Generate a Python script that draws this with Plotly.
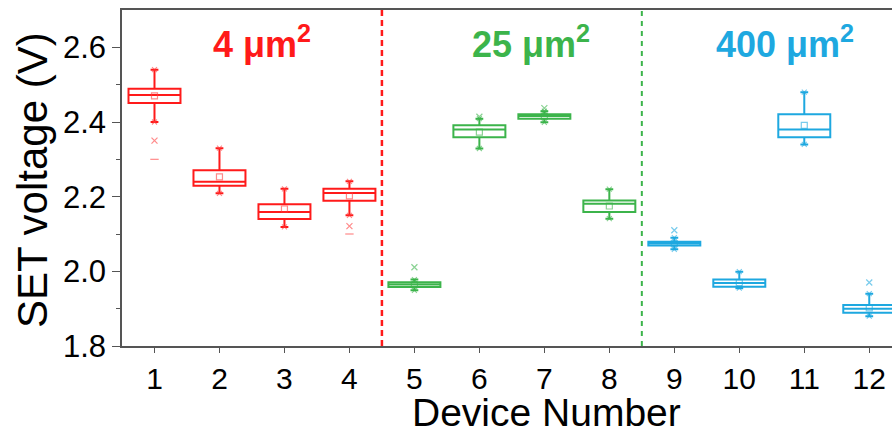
import plotly.graph_objects as go

devices = [1, 2, 3, 4, 5, 6, 7, 8, 9, 10, 11, 12]
upper = [2.540, 2.330, 2.221, 2.241, 1.978, 2.409, 2.429, 2.220, 2.090, 1.999, 2.480, 1.940]
q3 = [2.489, 2.271, 2.180, 2.221, 1.971, 2.391, 2.421, 2.190, 2.079, 1.978, 2.421, 1.910]
median = [2.472, 2.240, 2.159, 2.210, 1.965, 2.380, 2.416, 2.181, 2.075, 1.969, 2.380, 1.900]
q1 = [2.451, 2.229, 2.140, 2.189, 1.958, 2.359, 2.409, 2.159, 2.069, 1.959, 2.359, 1.889]
lower = [2.400, 2.209, 2.119, 2.150, 1.949, 2.329, 2.399, 2.141, 2.059, 1.955, 2.340, 1.880]
mean = [2.470, 2.253, 2.167, 2.202, 1.964, 2.373, 2.415, 2.175, 2.074, 1.970, 2.391, 1.902]

outlier_x = [1, 4, 5, 6, 7, 9, 12]
outlier_y = [2.350, 2.121, 2.011, 2.414, 2.437, 2.110, 1.970]
extreme_x = [1, 4]
extreme_y = [2.300, 2.100]

groups = [
    ("4 μm<sup>2</sup>", "#ff1a1a", "rgba(255,60,60,0.6)", slice(0, 4)),
    ("25 μm<sup>2</sup>", "#3cb44b", "rgba(60,180,75,0.6)", slice(4, 8)),
    ("400 μm<sup>2</sup>", "#1ea8e0", "rgba(30,168,224,0.6)", slice(8, 12)),
]
label_x = [2.65, 6.79, 10.7]
label_y = 2.615
dividers = [(4.5, "#ff1a1a", 2.5, "6px,4px"), (8.5, "#3cb44b", 2, "5px,5px")]

FONT = "Liberation Sans, Arial, sans-serif"
fig = go.Figure()

for (name, col, light, sl) in groups:
    xs = devices[sl]
    fig.add_trace(go.Box(
        x=xs, q1=q1[sl], median=median[sl], q3=q3[sl],
        lowerfence=lower[sl], upperfence=upper[sl],
        boxpoints=False, width=0.8, whiskerwidth=0.15,
        line=dict(color=col, width=2), fillcolor="rgba(255,255,255,0)",
        showlegend=False, hoverinfo="skip"))
    fig.add_trace(go.Scatter(
        x=xs, y=mean[sl], mode="markers",
        marker=dict(symbol="square-open", size=6, color=light, line=dict(width=1.2, color=light)),
        showlegend=False, hoverinfo="skip"))
    fig.add_trace(go.Scatter(
        x=xs + xs, y=upper[sl] + lower[sl], mode="markers",
        marker=dict(symbol="x-thin-open", size=5, color=light, line=dict(width=1.1, color=light)),
        showlegend=False, hoverinfo="skip"))
    ox = [x for x in outlier_x if x in xs]
    oy = [y for x, y in zip(outlier_x, outlier_y) if x in xs]
    fig.add_trace(go.Scatter(
        x=ox, y=oy, mode="markers",
        marker=dict(symbol="x-thin-open", size=6, color=light, line=dict(width=1.2, color=light)),
        showlegend=False, hoverinfo="skip"))
    ex = [x for x in extreme_x if x in xs]
    ey = [y for x, y in zip(extreme_x, extreme_y) if x in xs]
    fig.add_trace(go.Scatter(
        x=ex, y=ey, mode="markers",
        marker=dict(symbol="line-ew-open", size=6, color=light, line=dict(width=1.2, color=light)),
        showlegend=False, hoverinfo="skip"))

for (xv, col, w, dash) in dividers:
    fig.add_shape(type="line", xref="x", yref="paper", x0=xv, x1=xv, y0=0, y1=1,
                  line=dict(color=col, width=w, dash=dash))

for (name, col, light, sl), lx in zip(groups, label_x):
    fig.add_annotation(x=lx, y=label_y, xref="x", yref="y", text="<b>" + name + "</b>",
                       showarrow=False, font=dict(family=FONT, size=36, color=col),
                       xanchor="center", yanchor="middle")

# axis titles (placed as annotations to match the cropped reference layout)
fig.add_annotation(x=(546 - 122) / 770, y=(435 - 89 - 412) / 336, xref="paper", yref="paper",
                   text="Device Number", showarrow=False,
                   font=dict(family=FONT, size=39, color="black"),
                   xanchor="center", yanchor="middle")
fig.add_annotation(x=(32 - 122) / 770, y=(346 - 180) / 336, xref="paper", yref="paper",
                   text="SET voltage (V)", textangle=-90, showarrow=False,
                   font=dict(family=FONT, size=42, color="black"),
                   xanchor="center", yanchor="middle")

fig.update_layout(
    width=892, height=435,
    margin=dict(l=122, r=0, t=10, b=89),
    plot_bgcolor="white", paper_bgcolor="white",
    font=dict(family=FONT, color="black"),
    xaxis=dict(range=[0.5, 12.35], tickmode="array", tickvals=devices,
               ticktext=[str(d) for d in devices],
               ticks="outside", ticklen=5, tickwidth=1.3, tickcolor="#555",
               showline=True, linecolor="#555", linewidth=1.5, mirror=True,
               showgrid=False, zeroline=False,
               tickfont=dict(size=30, family=FONT)),
    yaxis=dict(range=[1.8, 2.7], tickvals=[1.8, 2.0, 2.2, 2.4, 2.6],
               ticktext=["1.8", "2.0", "2.2", "2.4", "2.6"],
               ticks="outside", ticklen=8, tickwidth=1.3, tickcolor="#555",
               minor=dict(tickvals=[1.9, 2.1, 2.3, 2.5], ticks="outside", ticklen=4,
                          tickwidth=1.2, tickcolor="#555", showgrid=False),
               showline=True, linecolor="#555", linewidth=1.5,
               showgrid=False, zeroline=False,
               tickfont=dict(size=31, family=FONT)),
)

fig.write_html("out.html")
